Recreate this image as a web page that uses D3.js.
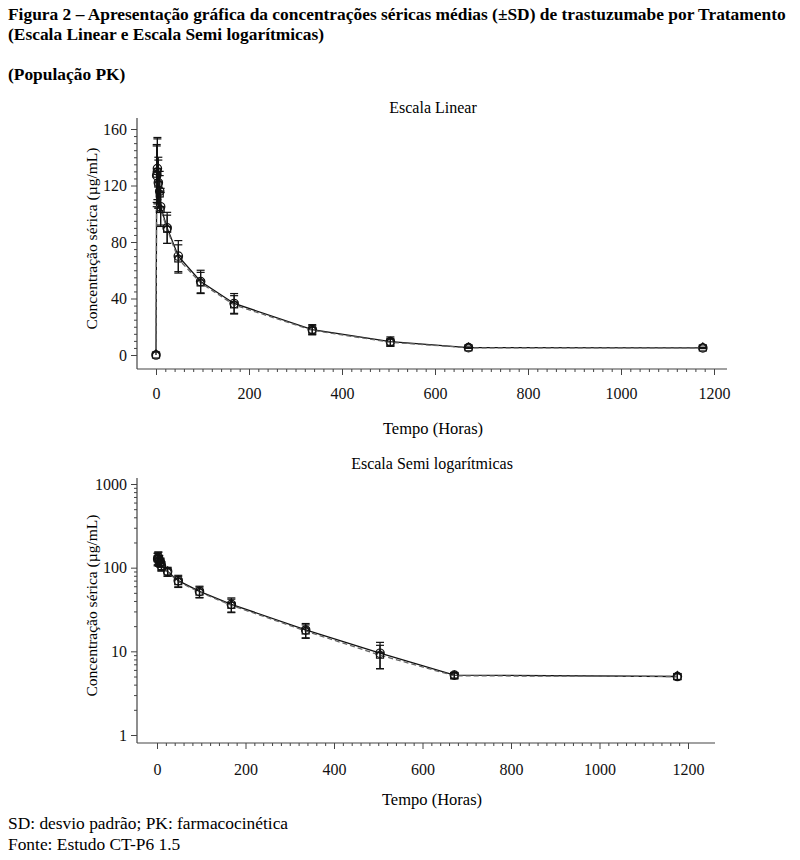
<!DOCTYPE html>
<html><head><meta charset="utf-8">
<script src="https://cdn.jsdelivr.net/npm/d3@7"></script>
<style>body{margin:0;background:#fff;} svg{display:block;font-family:"Liberation Serif","Times New Roman",serif;}</style>
</head><body>
<script>
// ---- data ----
const hours = [0, 1.5, 3, 5, 8, 10, 24, 48, 96, 168, 336, 504, 672, 1176];
const meanA = [0, 127, 132, 122, 116, 105, 90, 70, 52, 36.5, 18, 9.5, 5.2, 5.0];
const sdA   = [0, 22, 22, 18, 14, 13, 11, 11, 8, 7, 3.5, 3.3, 0.4, 0.4];
const meanB = [0, 128, 130, 121, 114, 103, 89, 68, 51, 35.5, 17.5, 9.0, 5.1, 5.0];
const sdB   = [0, 20, 23, 17, 13, 12, 10, 10, 7.5, 6.5, 3.2, 2.8, 0.4, 0.4];
const xTicks = [0, 200, 400, 600, 800, 1000, 1200];
const yTicksLin = [0, 40, 80, 120, 160];
const yTicksLog = [1, 10, 100, 1000];
const titleLines = ["Figura 2 – Apresentação gráfica da concentrações séricas médias (±SD) de trastuzumabe por Tratamento",
                    "(Escala Linear e Escala Semi logarítmicas)"];
const subTitle = "(População PK)";
const panelTitles = ["Escala Linear", "Escala Semi logarítmicas"];
const yLabel = "Concentração sérica (µg/mL)";
const xLabel = "Tempo (Horas)";
const footnotes = ["SD: desvio padrão; PK: farmacocinética", "Fonte: Estudo CT-P6 1.5"];

const series = [
  {mean: meanA, sd: sdA, dash: null, color: "#111", marker: "circle"},
  {mean: meanB, sd: sdB, dash: "5,3", color: "#666", marker: "square"}
];

const svg = d3.select("body").append("svg").attr("width", 800).attr("height", 860);

svg.selectAll("text.title").data(titleLines).join("text")
  .attr("x", 8).attr("y", (d,i)=>20+i*20).attr("font-size", 17.4).attr("font-weight", "bold").text(d=>d);
svg.append("text").attr("x", 8).attr("y", 80).attr("font-size", 17.4).attr("font-weight", "bold").text(subTitle);
svg.selectAll("text.foot").data(footnotes).join("text")
  .attr("x", 8).attr("y", (d,i)=>829+i*21).attr("font-size", 17.4).text(d=>d);

function panel(cfg){
  const g = svg.append("g");
  const x = d3.scaleLinear().domain([0,1200]).range([cfg.x0, cfg.x1]);
  const y = cfg.log ? d3.scaleLog().domain([1,1000]).range([cfg.yb, cfg.yt])
                    : d3.scaleLinear().domain([0,160]).range([cfg.yb, cfg.yt]);
  const axisColor = "#444";
  // frame lines
  g.append("line").attr("x1", cfg.left).attr("x2", cfg.left).attr("y1", cfg.top).attr("y2", cfg.bottom).attr("stroke", axisColor).attr("stroke-width", 1.2);
  g.append("line").attr("x1", cfg.left).attr("x2", cfg.right).attr("y1", cfg.bottom).attr("y2", cfg.bottom).attr("stroke", axisColor).attr("stroke-width", 1.2);
  // x axis
  const xMinor = d3.range(0, 1201, 20).filter(v=>v%200!==0);
  const xa = d3.axisBottom(x).tickValues(xTicks).tickSize(6).tickFormat(d3.format("d"));
  const xg = g.append("g").attr("transform", `translate(0,${cfg.bottom})`).call(xa);
  xg.select(".domain").remove();
  xg.selectAll("line").attr("stroke", axisColor);
  xg.selectAll("text").attr("font-size", 16).attr("font-family", "Liberation Serif").attr("fill", "#111").attr("y", cfg.tickLabelOff).attr("dy", "0.71em");
  g.append("g").attr("transform", `translate(0,${cfg.bottom})`)
    .call(d3.axisBottom(x).tickValues(xMinor).tickSize(3).tickFormat(""))
    .call(s=>{s.select(".domain").remove(); s.selectAll("line").attr("stroke", axisColor);});
  // y axis
  let yMinor;
  if (cfg.log) {
    yMinor = [];
    [1,10,100].forEach(d=>{ for(let k=2;k<=9;k++) yMinor.push(d*k); });
  } else {
    yMinor = d3.range(0, 161, 5).filter(v=>v%40!==0);
  }
  const ya = d3.axisLeft(y).tickValues(cfg.log ? yTicksLog : yTicksLin).tickSize(6).tickFormat(d3.format("d"));
  const yg = g.append("g").attr("transform", `translate(${cfg.left},0)`).call(ya);
  yg.select(".domain").remove();
  yg.selectAll("line").attr("stroke", axisColor);
  yg.selectAll("text").attr("font-size", 16).attr("font-family", "Liberation Serif").attr("fill", "#111").attr("x", -10);
  g.append("g").attr("transform", `translate(${cfg.left},0)`)
    .call(d3.axisLeft(y).tickValues(yMinor).tickSize(3).tickFormat(""))
    .call(s=>{s.select(".domain").remove(); s.selectAll("line").attr("stroke", axisColor);});
  // labels
  g.append("text").attr("x", cfg.titleX).attr("y", cfg.titleY).attr("text-anchor","middle").attr("font-size", 16).text(cfg.title);
  g.append("text").attr("x", cfg.titleX).attr("y", cfg.bottom+cfg.xLabelOff).attr("text-anchor","middle").attr("font-size", 16.5).text(xLabel);
  g.append("text").attr("transform", `translate(${cfg.left-40},${(cfg.top+cfg.bottom)/2 - 5}) rotate(-90)`)
    .attr("text-anchor","middle").attr("font-size", 15.5).text(yLabel);

  series.forEach(s=>{
    const pts = hours.map((h,i)=>({h, m:s.mean[i], sd:s.sd[i]})).filter(p=>!cfg.log || p.m>0);
    const line = d3.line().x(p=>x(p.h)).y(p=>y(p.m));
    g.append("path").datum(pts).attr("d", line).attr("fill","none").attr("stroke", s.color)
      .attr("stroke-width", 1.3).attr("stroke-dasharray", s.dash);
    // error bars
    const eb = g.append("g").attr("stroke", "#111").attr("stroke-width", 1.2);
    pts.filter(p=>p.sd>0).forEach(p=>{
      const lo = Math.max(p.m - p.sd, cfg.log ? 1 : 0), hi = p.m + p.sd;
      eb.append("line").attr("x1", x(p.h)).attr("x2", x(p.h)).attr("y1", y(lo)).attr("y2", y(hi));
      [lo,hi].forEach(v=> eb.append("line").attr("x1", x(p.h)-4).attr("x2", x(p.h)+4).attr("y1", y(v)).attr("y2", y(v)));
    });
    // markers
    const mk = g.append("g").attr("fill","none").attr("stroke","#111").attr("stroke-width",1.2);
    pts.forEach(p=>{
      if (s.marker==="circle") mk.append("circle").attr("cx", x(p.h)).attr("cy", y(p.m)).attr("r", 4.2);
      else {
        mk.append("rect").attr("x", x(p.h)-3.5).attr("y", y(p.m)-3).attr("width", 7).attr("height", 6);
        mk.append("path").attr("d", `M${x(p.h)-3.5},${y(p.m)-1}L${x(p.h)},${y(p.m)-5}L${x(p.h)+3.5},${y(p.m)-1}`);
      }
    });
  });
}

panel({left:137, right:727, top:118, bottom:369, x0:156, x1:714, yb:355, yt:129, log:false,
       title:panelTitles[0], titleX:433, titleY:113, tickLabelOff:19, xLabelOff:65});
panel({left:137, right:715, top:478, bottom:743, x0:157, x1:688, yb:735, yt:484, log:true,
       title:panelTitles[1], titleX:432, titleY:469, tickLabelOff:21, xLabelOff:62});
</script>
</body></html>
